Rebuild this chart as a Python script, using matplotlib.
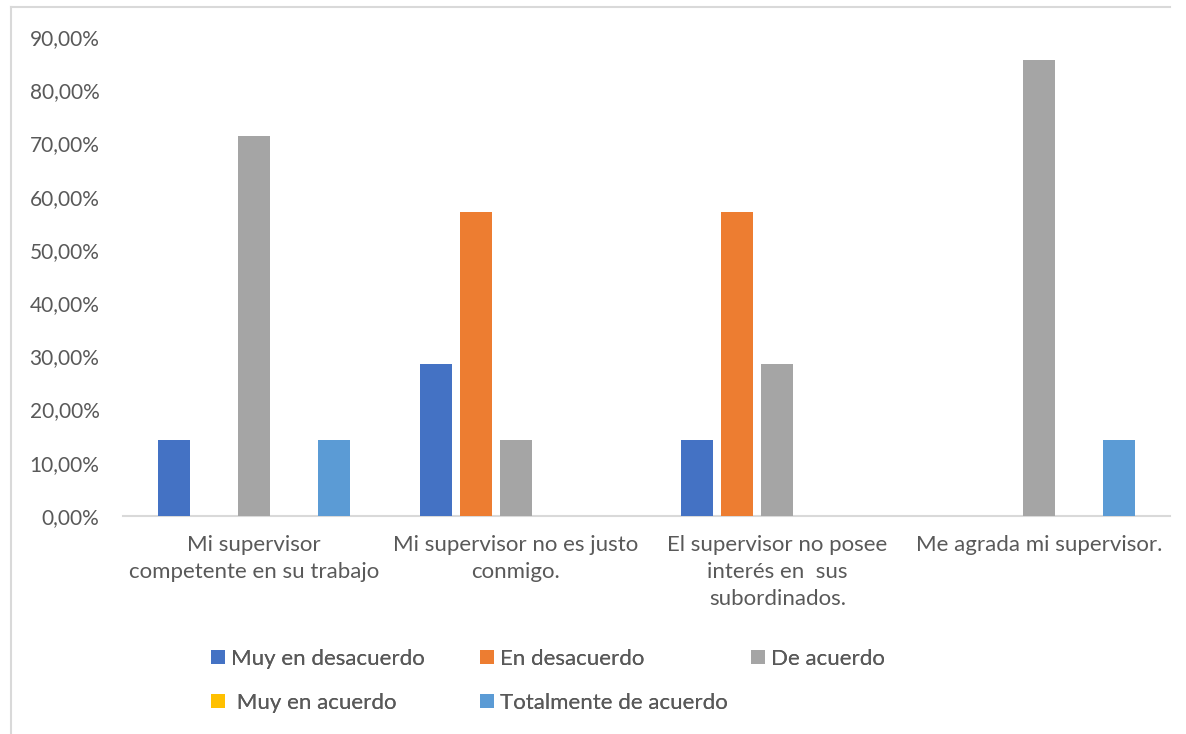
import matplotlib
matplotlib.use("Agg")
import matplotlib.pyplot as plt
from matplotlib.lines import Line2D
from matplotlib.patches import Patch
import numpy as np

categories = ["Mi supervisor\ncompetente en su trabajo",
              "Mi supervisor no es justo\nconmigo.",
              "El supervisor no posee\ninterés en  sus\nsubordinados.",
              "Me agrada mi supervisor."]
series_names = ["Muy en desacuerdo", "En desacuerdo", "De acuerdo",
                " Muy en acuerdo", "Totalmente de acuerdo"]
muy_desacuerdo = [0.1429, 0.2857, 0.1429, 0.0]
en_desacuerdo = [0.0, 0.5714, 0.5714, 0.0]
de_acuerdo = [0.7143, 0.1429, 0.2857, 0.8571]
muy_acuerdo = [0.0, 0.0, 0.0, 0.0]
totalmente = [0.1429, 0.0, 0.0, 0.1429]
colors = ["#4472C4", "#ED7D31", "#A5A5A5", "#FFC000", "#5B9BD5"]
yticks = [0, 0.1, 0.2, 0.3, 0.4, 0.5, 0.6, 0.7, 0.8, 0.9]
ytick_labels = ["0,00%", "10,00%", "20,00%", "30,00%", "40,00%", "50,00%",
                "60,00%", "70,00%", "80,00%", "90,00%"]

plt.rcParams['font.family'] = ['Lato', 'DejaVu Sans']
txt = "#595959"
W, H = 1186, 734
fig = plt.figure(figsize=(W / 100, H / 100), dpi=100)
ax = fig.add_axes([123 / W, 1 - 516 / H, (1170 - 123) / W, (516 - 37) / H])

data = [muy_desacuerdo, en_desacuerdo, de_acuerdo, muy_acuerdo, totalmente]
x = np.arange(len(categories))
slot = 40 / 261.75
bw = 32 / 261.75
handles = []
for i, (vals, c, name) in enumerate(zip(data, colors, series_names)):
    ax.bar(x + (i - 2) * slot, vals, width=bw, color=c, zorder=3)
    handles.append(Patch(facecolor=c, label=name))

ax.set_xlim(-0.5, len(categories) - 0.5)
ax.set_ylim(0, 0.9)
ax.set_yticks(yticks)
ax.set_yticklabels(ytick_labels, fontsize=15, color=txt)
ax.set_xticks(x)
ax.set_xticklabels(categories, fontsize=16, color=txt, linespacing=1.42)
ax.tick_params(axis='both', length=0)
ax.tick_params(axis='x', pad=14)
ax.tick_params(axis='y', pad=17)
for s in ["top", "right", "left"]:
    ax.spines[s].set_visible(False)
ax.spines["bottom"].set_color("#D9D9D9")
ax.spines["bottom"].set_linewidth(1.5)

# legend entries placed in Excel's grid: (handle left x px, row center y px)
positions = [(211, 659), (480, 659), (751, 659), (211, 703), (480, 703)]
for h, name, (px, py) in zip(handles, series_names, positions):
    lg = fig.legend([h], [name], loc="center left",
                    bbox_to_anchor=(px / W, 1 - py / H), frameon=False,
                    fontsize=16, handlelength=0.62, handleheight=0.62,
                    handletextpad=0.27, borderpad=0, borderaxespad=0)
    for t in lg.get_texts():
        t.set_color(txt)
    fig.add_artist(lg)

# chart border
fig.add_artist(Line2D([11 / W, 1170 / W], [1 - 7 / H, 1 - 7 / H], color="#D9D9D9", lw=1.5))
fig.add_artist(Line2D([11 / W, 11 / W], [1 - 7 / H, 0], color="#D9D9D9", lw=1.5))

fig.savefig("out.png", dpi=100, facecolor="white")
